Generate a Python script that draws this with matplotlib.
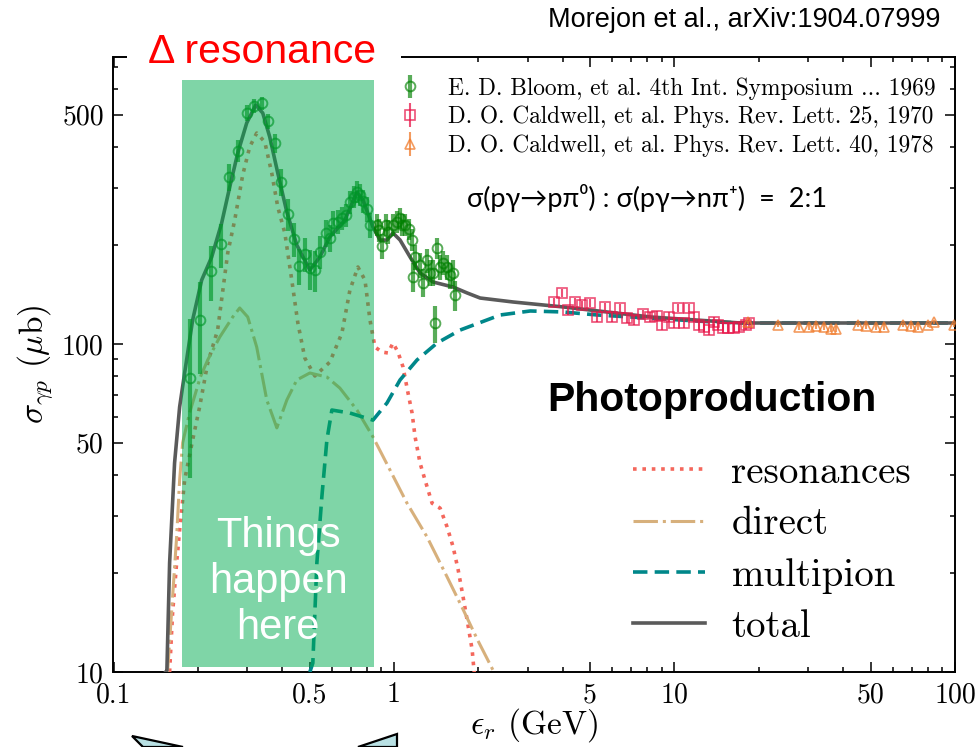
import matplotlib
matplotlib.use("Agg")
import matplotlib.pyplot as plt
from matplotlib.patches import Rectangle, Polygon
from matplotlib.ticker import FixedLocator, NullFormatter, FixedFormatter

plt.rcParams["font.family"] = "serif"
plt.rcParams["font.serif"] = ["cmr10", "DejaVu Serif"]
plt.rcParams["mathtext.fontset"] = "cm"
plt.rcParams["axes.formatter.use_mathtext"] = True
plt.rcParams["axes.unicode_minus"] = False

# ---- measurements: E. D. Bloom et al. (1969)
bloom_E = [0.187, 0.204, 0.223, 0.241, 0.258, 0.277, 0.298, 0.316, 0.338, 0.355,
           0.376, 0.397, 0.418, 0.439, 0.458, 0.481, 0.501, 0.522, 0.544, 0.570,
           0.591, 0.605, 0.631, 0.652, 0.674, 0.696, 0.720, 0.738, 0.756, 0.775,
           0.801, 0.821, 0.870, 0.884, 0.906, 0.936, 0.952, 0.992, 1.025, 1.051,
           1.068, 1.095, 1.131, 1.160, 1.169, 1.189, 1.238, 1.269, 1.312, 1.345,
           1.379, 1.401, 1.424, 1.460, 1.496, 1.546, 1.585, 1.624, 1.652]
bloom_sigma = [79, 118, 167, 202, 323, 388, 506, 532, 543, 479,
               410, 312, 249, 209, 173, 188, 170, 168, 191, 218,
               211, 234, 236, 242, 247, 271, 281, 291, 285, 273,
               258, 231, 231, 223, 199, 231, 220, 231, 236, 242,
               231, 231, 224, 208, 160, 184, 174, 154, 180, 165,
               165, 116, 196, 172, 177, 172, 162, 165, 141]
bloom_err = [40, 37, 32, 31, 30, 30, 28, 25, 25, 25,
             28, 30, 28, 25, 22, 22, 24, 24, 22, 20,
             20, 20, 20, 20, 20, 22, 22, 22, 22, 22,
             22, 20, 18, 18, 18, 18, 18, 18, 18, 18,
             18, 18, 16, 16, 16, 16, 15, 15, 15, 15,
             15, 15, 15, 15, 15, 15, 15, 15, 15]

# ---- D. O. Caldwell et al. (1970)
cald70_E = [3.73, 3.98, 4.18, 4.43, 4.69, 5.01, 5.31, 5.67, 6.01, 6.41,
            6.79, 7.20, 7.75, 8.21, 8.69, 9.06, 9.52, 9.92, 10.33, 10.77,
            11.22, 11.69, 12.18, 12.69, 13.22, 13.79, 14.24, 14.84, 15.46, 16.24,
            16.93, 17.93, 18.38]
cald70_sigma = [134.3, 143.1, 126.9, 134.3, 131.5, 133.4, 120.9, 129.7, 120.9, 128.8,
                120.0, 118.3, 123.4, 120.9, 121.7, 114.3, 120.9, 115.9, 128.8, 115.9,
                128.8, 120.9, 114.3, 112.7, 110.3, 116.7, 114.3, 111.9, 111.9, 111.9,
                112.7, 114.3, 115.9]
cald70_err = [4.0] * len(cald70_E)

# ---- D. O. Caldwell et al. (1978)
cald78_E = [18.23, 23.33, 27.73, 30.10, 31.88, 34.06, 36.07, 37.58, 45.04, 48.10,
            52.23, 55.77, 65.21, 69.65, 73.78, 80.10, 84.14, 99.17]
cald78_sigma = [116.7, 114.3, 112.7, 112.7, 113.5, 112.7, 111.1, 111.1, 114.3, 113.5,
                112.7, 112.7, 114.3, 113.5, 112.7, 114.3, 116.7, 114.3]
cald78_err = [2.0] * len(cald78_E)

# ---- model components
res_E = [0.1585, 0.1624, 0.1679, 0.1721, 0.1793, 0.1915, 0.2028, 0.2167, 0.2351, 0.2554,
         0.2705, 0.2888, 0.3059, 0.3240, 0.3462, 0.3666, 0.3852, 0.4081, 0.4321, 0.4542,
         0.4810, 0.5223, 0.5906, 0.6521, 0.6963, 0.7437, 0.7880, 0.8208, 0.8554, 0.9061,
         0.9519, 0.9918, 1.033, 1.077, 1.122, 1.160, 1.189, 1.238, 1.290, 1.367,
         1.460, 1.546, 1.624, 1.693, 1.764, 1.823, 1.899, 1.931, 2.0]
res_sigma = [10, 15.1, 21.5, 27.1, 38.5, 51.0, 64.3, 87.5, 110.3, 189.5,
             238.8, 327.4, 399, 439.8, 413, 332, 261.6, 218, 156.6, 115.9,
             90.6, 79.9, 88.1, 108, 146, 171.7, 156.6, 118.4, 97.9, 94.5,
             93.9, 100.7, 94.5, 85.1, 70.9, 61.6, 52.1, 43.4, 38.5, 32.7,
             31.6, 27.7, 24.1, 20.5, 16.9, 14.4, 11.7, 10, 8.5]

dir_E = [0.1559, 0.1624, 0.1679, 0.1721, 0.1764, 0.1867, 0.2040, 0.2167, 0.2392, 0.2661,
         0.2818, 0.3010, 0.3240, 0.3519, 0.3822, 0.4149, 0.4503, 0.5012, 0.5764, 0.6412,
         0.7378, 0.8414, 0.9676, 1.113, 1.312, 1.546, 1.764, 1.979, 2.258, 2.4]
dir_sigma = [10, 16.9, 25.8, 38.5, 50.0, 61.6, 79.3, 89.4, 105, 120.9,
             128.8, 120.9, 97.9, 67.5, 55.5, 67.5, 77.7, 81.6, 79.3, 73.4,
             62.9, 52.1, 41.3, 32.7, 25.8, 19.5, 15.5, 12.6, 10.1, 9.0]

multi_E = [0.5012, 0.5136, 0.5309, 0.5531, 0.5764, 0.6005, 0.6963, 0.8414, 0.9441, 1.051,
           1.208, 1.424, 1.721, 2.391, 3.06, 4.015, 5.309, 8.009, 13.79, 18.23, 100]
multi_sigma = [10, 10.65, 21.5, 34.2, 51.0, 62.9, 61.6, 58.6, 66.1, 77.7,
               89.4, 100.7, 110.3, 122.6, 126.1, 125.2, 122.6, 120.0, 116.7, 115.9, 115.9]

tot_E = [0.1534, 0.155, 0.1585, 0.1651, 0.1721, 0.1793, 0.1915, 0.2062, 0.2239, 0.2430,
         0.2596, 0.2773, 0.2985, 0.3215, 0.3405, 0.3606, 0.3852, 0.4149, 0.4503, 0.5012,
         0.5442, 0.5906, 0.6683, 0.7378, 0.7750, 0.8414, 0.8913, 0.9441, 0.9918, 1.051,
         1.141, 1.238, 1.379, 1.624, 1.823, 2.028, 2.661, 4.015, 8.208, 17.21, 100]
tot_sigma = [10, 10.1, 21.5, 43.4, 64.3, 81.6, 118.4, 156.6, 184.2, 233.9,
             301, 382, 472, 535.5, 506, 427.8, 332, 252.6, 200.3, 168.1,
             184.2, 212, 238.8, 290.7, 274.8, 227.3, 207.5, 207.5, 218, 207.5,
             184.2, 164.6, 154.5, 149.2, 143.1, 138.1, 134.3, 129.7, 120.9, 115.9, 115.9]

x_ticks = [0.1, 0.5, 1, 5, 10, 50, 100]
x_ticklabels = ["0.1", "0.5", "1", "5", "10", "50", "100"]
y_ticks = [10, 50, 100, 500]
y_ticklabels = ["10", "50", "100", "500"]

W, H = 979, 747
fig = plt.figure(figsize=(W / 100, H / 100), dpi=100)
ax = fig.add_axes([113.5 / W, 75 / H, (955 - 113.5) / W, (672 - 57) / H])
ax.set_xscale("log")
ax.set_yscale("log")
ax.set_xlim(0.1, 100)
ax.set_ylim(10, 750)

c_res, c_dir, c_multi, c_tot = "#f4675c", "#d7b07c", "#00878a", "#5a5a5a"

ax.plot(res_E, res_sigma, ls=(0, (1, 1.6)), color=c_res, lw=2.6, label="resonances", zorder=3)
ax.plot(dir_E, dir_sigma, ls=(0, (8, 1.6, 1, 1.6)), color=c_dir, lw=2.2, label="direct", zorder=3)
ax.plot(multi_E, multi_sigma, ls=(0, (4, 2)), color=c_multi, lw=2.6, label="multipion", zorder=3)
ax.plot(tot_E, tot_sigma, ls="-", color=c_tot, lw=2.6, label="total", zorder=4)
line_handles = ax.get_lines()

h1 = ax.errorbar(bloom_E, bloom_sigma, yerr=bloom_err, fmt="o", mfc="none", mec="green",
                 ms=7, mew=1.4, ecolor="green", elinewidth=3, capsize=0, alpha=0.65, zorder=5)
h2 = ax.errorbar(cald70_E, cald70_sigma, yerr=cald70_err, fmt="s", mfc="none", mec="#e8174a",
                 ms=7, mew=1.2, ecolor="#e8174a", elinewidth=1.5, capsize=0, alpha=0.75, zorder=5)
h3 = ax.errorbar(cald78_E, cald78_sigma, yerr=cald78_err, fmt="^", mfc="none", mec="#f07a2a",
                 ms=7, mew=1.2, ecolor="#f07a2a", elinewidth=1.5, capsize=0, alpha=0.75, zorder=5)

ax.xaxis.set_major_locator(FixedLocator(x_ticks))
ax.xaxis.set_major_formatter(FixedFormatter(x_ticklabels))
ax.xaxis.set_minor_locator(FixedLocator([0.2, 0.3, 0.4, 0.6, 0.7, 0.8, 0.9, 2, 3, 4, 6, 7, 8, 9,
                                          20, 30, 40, 60, 70, 80, 90]))
ax.xaxis.set_minor_formatter(NullFormatter())
ax.yaxis.set_major_locator(FixedLocator(y_ticks))
ax.yaxis.set_major_formatter(FixedFormatter(y_ticklabels))
ax.yaxis.set_minor_locator(FixedLocator([20, 30, 40, 60, 70, 80, 90, 200, 300, 400, 600, 700]))
ax.yaxis.set_minor_formatter(NullFormatter())
ax.tick_params(which="both", direction="in", top=True, right=True, labelsize=20, width=1.1)
ax.tick_params(which="major", length=7, pad=7)
ax.tick_params(which="minor", length=3.5)
for s in ax.spines.values():
    s.set_linewidth(1.4)

ax.set_xlabel(r"$\epsilon_r$ (GeV)", fontsize=24)
ax.xaxis.set_label_coords(0.5, (672 - 706) / 615)
ax.set_ylabel(r"$\sigma_{\gamma p}$ ($\mu$b)", fontsize=24)

leg1 = ax.legend([h1, h2, h3],
                 ["E. D. Bloom, et al. 4th Int. Symposium ... 1969",
                  "D. O. Caldwell, et al. Phys. Rev. Lett. 25, 1970",
                  "D. O. Caldwell, et al. Phys. Rev. Lett. 40, 1978"],
                 loc="upper left", bbox_to_anchor=(398 / W, 1 - 77 / H),
                 bbox_transform=fig.transFigure, frameon=False, fontsize=16.8,
                 handlelength=1.0, handletextpad=1.15, labelspacing=0.27, borderpad=0,
                 borderaxespad=0)
ax.add_artist(leg1)
ax.legend(line_handles, ["resonances", "direct", "multipion", "total"],
          loc="upper left", bbox_to_anchor=(633 / W, 1 - 455 / H),
          bbox_transform=fig.transFigure, frameon=False, fontsize=28,
          handlelength=1.85, handletextpad=0.68, labelspacing=0.40, borderpad=0,
          borderaxespad=0)

# shaded Delta-resonance band
band = Rectangle((182 / W, 1 - 667 / H), (374 - 182) / W, (667 - 80) / H,
                 transform=fig.transFigure, facecolor="#00ad50", alpha=0.5,
                 edgecolor="none", zorder=10)
fig.add_artist(band)
fig.text(278 / W, 1 - 582 / H, "Things\nhappen\nhere", color="white", ha="center",
         va="center", fontsize=30, family="Liberation Sans", linespacing=1.2, zorder=11)

# header label interrupting the top frame
fig.add_artist(Rectangle((127 / W, 1 - 72 / H), (401 - 127) / W, 37 / H,
                         transform=fig.transFigure, facecolor="white", edgecolor="none", zorder=12))
fig.text(262 / W, 1 - 52 / H, "\u0394 resonance", color="red", ha="center", va="center",
         fontsize=29.5, family="Liberation Sans", zorder=13)

fig.text(940 / W, 1 - 20 / H, "Morejon et al., arXiv:1904.07999", ha="right", va="center",
         fontsize=19.5, family="Liberation Sans")
fig.text(467 / W, 1 - 198 / H, "\u03c3(p\u03b3\u2192p\u03c0\u2070) : \u03c3(p\u03b3\u2192n\u03c0\u207a)  =  2:1",
         ha="left", va="center", fontsize=19.5, family=["Lato", "DejaVu Sans"])
fig.text(712 / W, 1 - 400 / H, "Photoproduction", ha="center", va="center", fontsize=29.4,
         fontweight="bold", family="Liberation Sans")

# callout pointers at the bottom edge
for pts in ([(132, 736), (183, 747), (143, 747)], [(397, 734), (397, 747), (358, 747)]):
    fig.add_artist(Polygon([(x / W, 1 - y / H) for x, y in pts], closed=True,
                           transform=fig.transFigure, facecolor="#b9e1e4",
                           edgecolor="black", lw=1.6, zorder=12))

fig.savefig("out.png", dpi=100)
